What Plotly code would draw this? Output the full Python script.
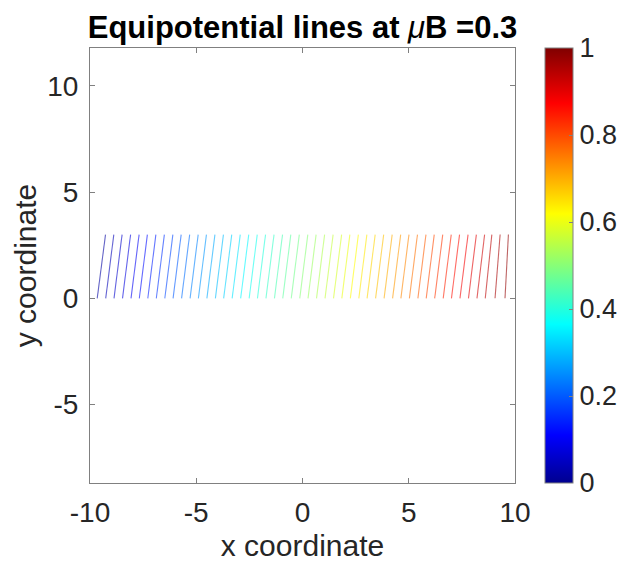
import plotly.graph_objects as go
from plotly.colors import sample_colorscale

# ---- data ----
levels = [0.02, 0.04, 0.06, 0.08, 0.10, 0.12, 0.14, 0.16, 0.18, 0.20,
          0.22, 0.24, 0.26, 0.28, 0.30, 0.32, 0.34, 0.36, 0.38, 0.40,
          0.42, 0.44, 0.46, 0.48, 0.50, 0.52, 0.54, 0.56, 0.58, 0.60,
          0.62, 0.64, 0.66, 0.68, 0.70, 0.72, 0.74, 0.76, 0.78, 0.80,
          0.82, 0.84, 0.86, 0.88, 0.90, 0.92, 0.94, 0.96, 0.98]
# x where each equipotential line meets y = 0 (bottom) and y = 3 (top)
x_bottom = [-9.66, -9.26, -8.87, -8.47, -8.07, -7.68, -7.28, -6.88, -6.48, -6.09,
            -5.69, -5.29, -4.90, -4.50, -4.10, -3.71, -3.31, -2.91, -2.51, -2.12,
            -1.72, -1.32, -0.93, -0.53, -0.13, 0.26, 0.66, 1.06, 1.46, 1.85,
            2.25, 2.65, 3.04, 3.44, 3.84, 4.24, 4.63, 5.03, 5.43, 5.82,
            6.22, 6.62, 7.01, 7.41, 7.81, 8.21, 8.60, 9.06, 9.53]
x_top = [-9.27, -8.88, -8.49, -8.09, -7.69, -7.30, -6.90, -6.50, -6.10, -5.71,
         -5.31, -4.91, -4.52, -4.12, -3.72, -3.33, -2.93, -2.53, -2.13, -1.74,
         -1.34, -0.94, -0.55, -0.15, 0.25, 0.64, 1.04, 1.44, 1.84, 2.23,
         2.63, 3.03, 3.42, 3.82, 4.22, 4.62, 5.01, 5.41, 5.81, 6.20,
         6.60, 7.00, 7.39, 7.79, 8.18, 8.57, 8.91, 9.30, 9.69]
y_ends = [0, 3]
cbar_ticks = [0, 0.2, 0.4, 0.6, 0.8, 1]
cbar_labels = ["0", "0.2", "0.4", "0.6", "0.8", "1"]
x_ticks = [-10, -5, 0, 5, 10]
x_labels = ["-10", "-5", "0", "5", "10"]
y_ticks = [-5, 0, 5, 10]
y_labels = ["-5", "0", "5", "10"]

jet = [[0.0, "rgb(0,0,143)"], [0.11, "rgb(0,0,255)"], [0.365, "rgb(0,255,255)"],
       [0.619, "rgb(255,255,0)"], [0.873, "rgb(255,0,0)"], [1.0, "rgb(128,0,0)"]]

FONT = "Liberation Sans, Arial, sans-serif"
GRAY = "#808080"
TXT = "#262626"

fig = go.Figure()
colors = sample_colorscale(jet, levels)
for lv, xb, xt, c in zip(levels, x_bottom, x_top, colors):
    fig.add_trace(go.Scatter(x=[xb, xt], y=y_ends, mode="lines",
                             line=dict(color=c, width=1.1), opacity=0.6,
                             showlegend=False, hoverinfo="skip"))

# colorbar carrier
fig.add_trace(go.Scatter(
    x=[0], y=[0], mode="markers", showlegend=False, hoverinfo="skip",
    marker=dict(size=0.1, color=[0.5], colorscale=jet, cmin=0, cmax=1,
                showscale=True,
                colorbar=dict(x=1.0706, xanchor="left", xpad=0, ypad=0,
                              y=0.5, yanchor="middle", len=1, lenmode="fraction",
                              thickness=28, thicknessmode="pixels",
                              outlinewidth=1, outlinecolor=GRAY,
                              tickvals=cbar_ticks, ticktext=cbar_labels,
                              ticks="inside", ticklen=4, tickcolor=GRAY,
                              tickfont=dict(family=FONT, size=27, color=TXT)))))

axis_common = dict(showgrid=False, zeroline=False, showline=True, linecolor=GRAY,
                   linewidth=1, mirror="ticks", ticks="inside", ticklen=5,
                   tickcolor=GRAY, automargin=False,
                   tickfont=dict(family=FONT, size=28, color=TXT))

fig.update_layout(
    width=623, height=576, autosize=False,
    margin=dict(l=90, r=108, t=48, b=93, autoexpand=False),
    paper_bgcolor="white", plot_bgcolor="white",
    title=dict(text="<b>Equipotential lines at </b><i>μ</i><b>B =0.3</b>",
               x=0.5, xref="paper", xanchor="center",
               y=1 - 27 / 576, yref="container", yanchor="middle",
               font=dict(family=FONT, size=31, color="black")),
    xaxis=dict(range=[-10, 10], tickvals=x_ticks, ticktext=x_labels,
               ticklabelstandoff=4,
               title=dict(text="x coordinate", standoff=8,
                          font=dict(family=FONT, size=30, color=TXT)),
               **axis_common),
    yaxis=dict(range=[-8.69, 11.78], tickvals=y_ticks, ticktext=y_labels,
               ticklabelstandoff=5,
               title=dict(text="y coordinate", standoff=1,
                          font=dict(family=FONT, size=30, color=TXT)),
               **axis_common),
)

fig.write_html("out.html", config={"displayModeBar": False},
               post_script="document.body.style.margin='0px';document.body.style.overflow='hidden';")
